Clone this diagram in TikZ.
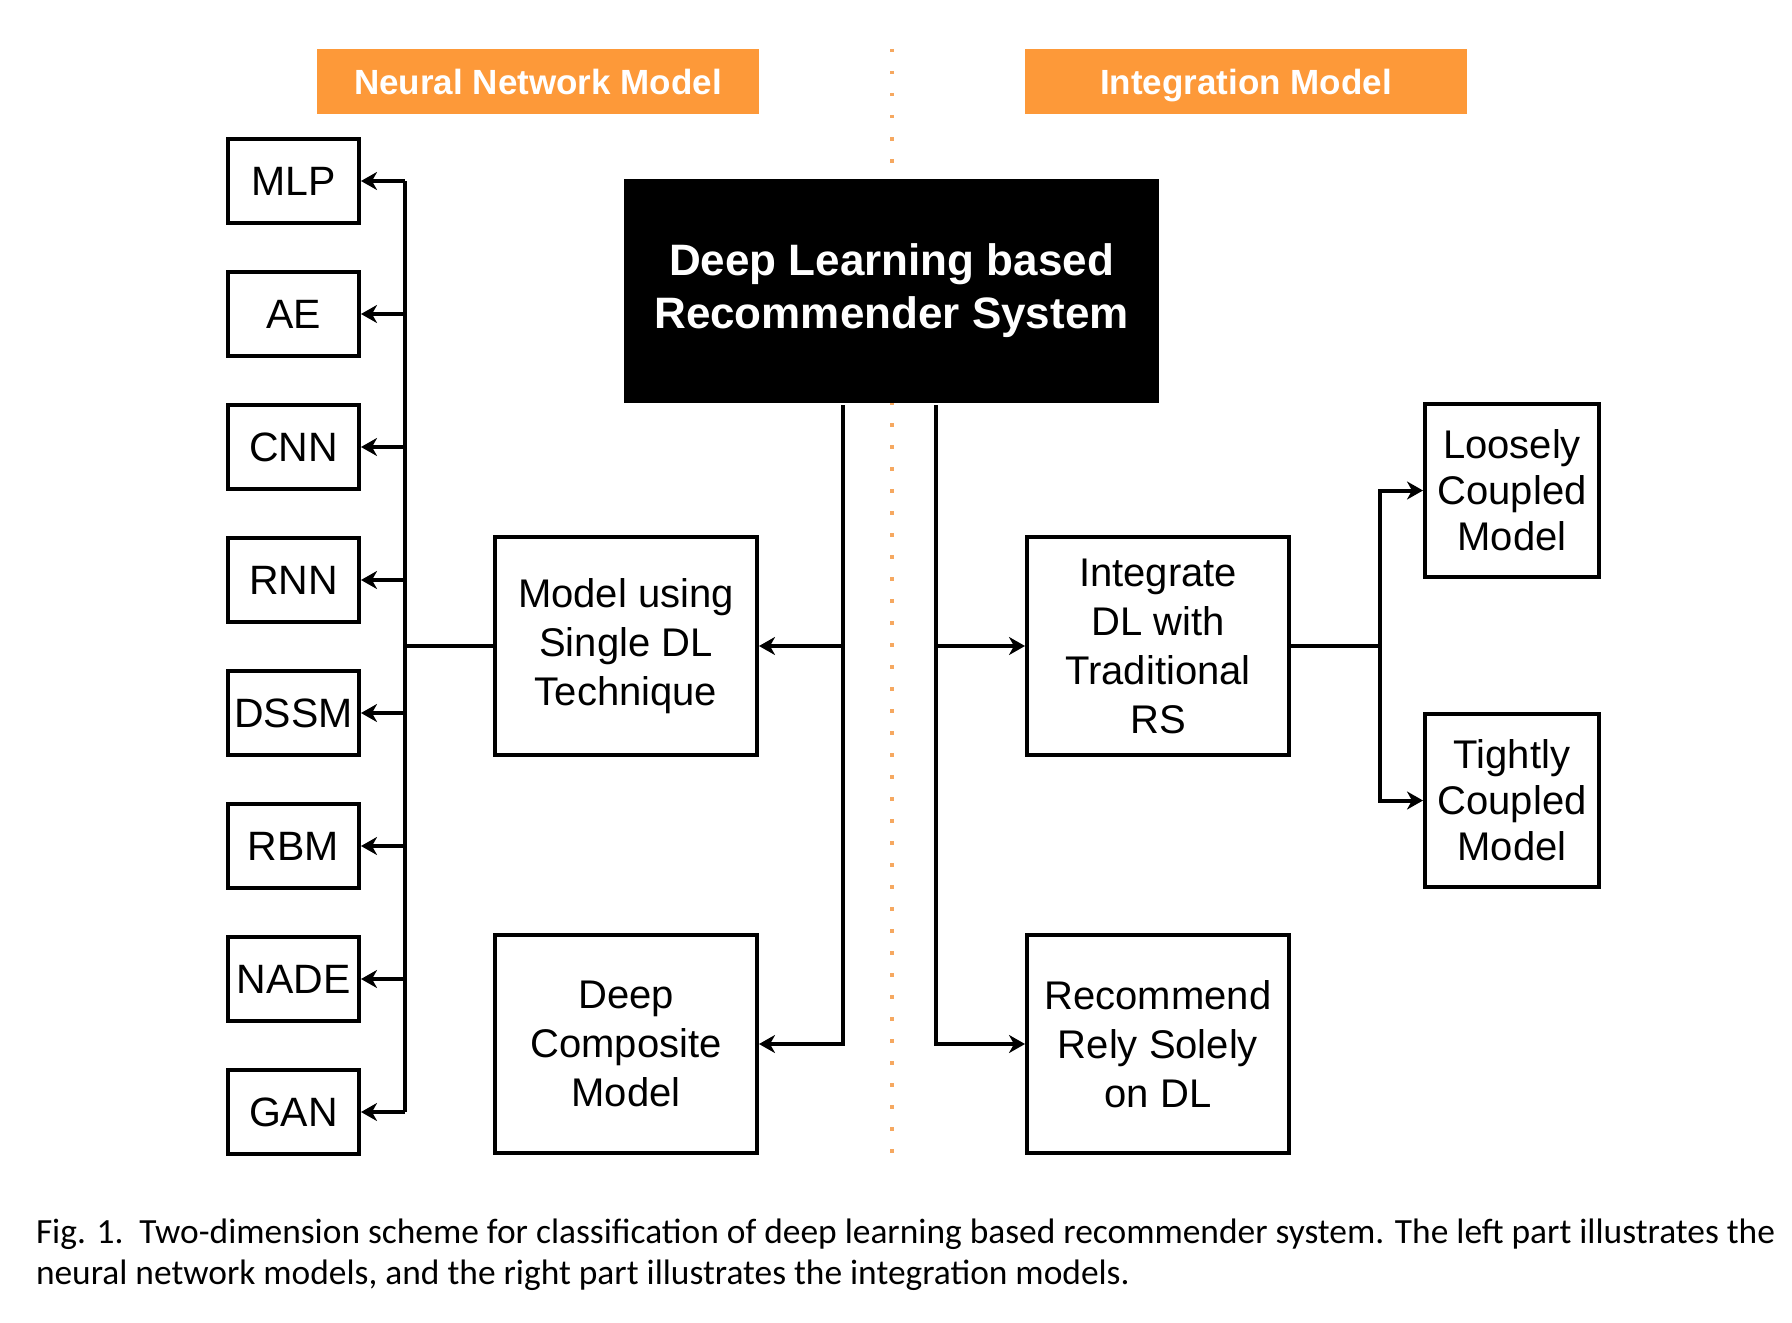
\documentclass[tikz,border=0pt]{standalone}
\usepackage{fontspec}
\setmainfont{Liberation Sans}
\newfontfamily\capfont{Carlito}
\usetikzlibrary{arrows.meta,positioning}

\definecolor{hdrorange}{RGB}{253,153,57}
\definecolor{dotorange}{RGB}{246,168,96}

\tikzset{
  model/.style={draw,line width=2pt,minimum width=65.5pt,minimum height=42pt,
                inner sep=0pt,font=\fontsize{20.5}{24}\selectfont},
  category/.style={draw,line width=2pt,minimum width=131pt,minimum height=109pt,
                inner sep=0pt,align=center,font=\fontsize{20}{24.5}\selectfont},
  coupling/.style={draw,line width=2pt,minimum width=87pt,minimum height=86.5pt,
                inner sep=0pt,align=center,font=\fontsize{20}{23}\selectfont},
  header/.style={fill=hdrorange,text=white,minimum width=221pt,minimum height=32.5pt,
                inner sep=0pt,text height=12.6pt,text depth=0pt,
                font=\bfseries\fontsize{17.5}{21}\selectfont},
  root/.style={fill=black,text=white,minimum width=267.5pt,minimum height=112pt,
                inner sep=0pt,align=center,font=\bfseries\fontsize{22}{26.5}\selectfont},
  divider/.style={draw=dotorange,line width=1.75pt,dash pattern=on 1.75pt off 9.25pt},
}

\begin{document}
\begin{tikzpicture}[->,>={Stealth[length=8pt,width=9pt,inset=2.5pt]},
                    x=0.5pt,y=-0.5pt,node distance=66.5pt,line width=2pt]
  \useasboundingbox (0,0) rectangle (1792,1322);

  % dotted line between the two halves
  \draw[-,divider] (892,49) -- (892,1157);

  \node[header] (nnhead)  at (538,81.5)   {Neural Network Model};
  \node[header] (inthead) at (1246,81.5)  {Integration Model};
  \node[root]   (dlrs)    at (891.5,291)  {Deep Learning based\\Recommender System};

  % neural network models
  \node[model] (mlp)  at (293.5,181) {MLP};
  \node[model] (ae)   [below of=mlp]  {AE};
  \node[model] (cnn)  [below of=ae]   {CNN};
  \node[model] (rnn)  [below of=cnn]  {RNN};
  \node[model] (dssm) [below of=rnn]  {DSSM};
  \node[model] (rbm)  [below of=dssm] {RBM};
  \node[model] (nade) [below of=rbm]  {NADE};
  \node[model] (gan)  [below of=nade] {GAN};

  \node[category] (single)    at (626,646) {Model using\\Single DL\\Technique};
  \node[category] (composite) [below of=single,node distance=199pt] {Deep\\Composite\\Model};
  \node[category] (integ)     [right of=single,node distance=266pt] {Integrate\\DL with\\Traditional\\RS};
  \node[category] (relyonly)  [below of=integ,node distance=199pt]  {Recommend\\Rely Solely\\on DL};

  \node[coupling] (loose) at (1512,490.5) {Loosely\\Coupled\\Model};
  \node[coupling] (tight) [below of=loose,node distance=155pt] {Tightly\\Coupled\\Model};

  \coordinate (lspine) at (405,0);
  \coordinate (lbus)   at (843,0);
  \coordinate (rbus)   at (936,0);
  \coordinate (cbus)   at (1380,0);

  % left side
  \draw[-] (single.west) -- (lspine |- single.west);
  \draw[-] (lspine |- mlp.east) -- (lspine |- gan.east);
  \draw (lspine |- mlp.east)  -- (mlp.east);
  \draw (lspine |- ae.east)   -- (ae.east);
  \draw (lspine |- cnn.east)  -- (cnn.east);
  \draw (lspine |- rnn.east)  -- (rnn.east);
  \draw (lspine |- dssm.east) -- (dssm.east);
  \draw (lspine |- rbm.east)  -- (rbm.east);
  \draw (lspine |- nade.east) -- (nade.east);
  \draw (lspine |- gan.east)  -- (gan.east);

  \draw (dlrs.south -| lbus) |- (single.east);
  \draw (dlrs.south -| lbus) |- (composite.east);

  % right side
  \draw (dlrs.south -| rbus) |- (integ.west);
  \draw (dlrs.south -| rbus) |- (relyonly.west);
  \draw (integ.east) -- (cbus |- integ.east) |- (loose.west);
  \draw (cbus |- integ.east) |- (tight.west);

  \node[anchor=north west,align=left,inner sep=0pt,
        font=\capfont\fontsize{17.7}{20.5}\selectfont] (caption) at (34,1217)
    {Fig. 1.\hspace{0.15em} Two-dimension scheme for classification of deep learning based recommender system. The left part illustrates the\\
     neural network models, and the right part illustrates the integration models.};
\end{tikzpicture}
\end{document}
